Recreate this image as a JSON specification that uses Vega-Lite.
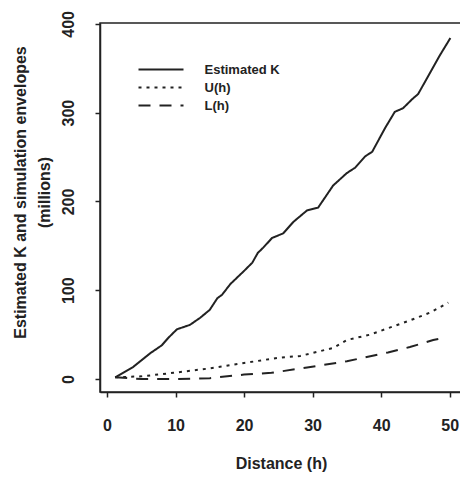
{
  "$schema": "https://vega.github.io/schema/vega-lite/v6.json",
  "width": 362,
  "height": 369,
  "autosize": "none",
  "padding": {"left": 100, "top": 23, "right": 0, "bottom": 96},
  "background": "white",
  "config": {
    "view": {"stroke": "#222", "strokeWidth": 1.5},
    "font": "Liberation Sans",
    "axis": {"grid": false, "domainColor": "#222", "domainWidth": 1.5, "tickColor": "#222", "tickWidth": 1.5, "tickSize": 5, "labelColor": "#222", "titleColor": "#222", "labelFontSize": 16, "labelFontWeight": "bold", "titleFontSize": 16, "titleFontWeight": "bold"}
  },
  "data": {"values": [
    {"h": 1.2, "v": 2, "s": "Estimated K"},
    {"h": 3.8, "v": 13.5, "s": "Estimated K"},
    {"h": 6.3, "v": 29, "s": "Estimated K"},
    {"h": 8.0, "v": 38, "s": "Estimated K"},
    {"h": 8.9, "v": 46, "s": "Estimated K"},
    {"h": 10.2, "v": 56, "s": "Estimated K"},
    {"h": 12.1, "v": 61, "s": "Estimated K"},
    {"h": 13.6, "v": 69, "s": "Estimated K"},
    {"h": 15.0, "v": 78, "s": "Estimated K"},
    {"h": 16.1, "v": 91, "s": "Estimated K"},
    {"h": 16.8, "v": 95, "s": "Estimated K"},
    {"h": 18.0, "v": 107, "s": "Estimated K"},
    {"h": 19.9, "v": 121, "s": "Estimated K"},
    {"h": 21.2, "v": 131, "s": "Estimated K"},
    {"h": 22.0, "v": 142, "s": "Estimated K"},
    {"h": 22.8, "v": 148, "s": "Estimated K"},
    {"h": 24.1, "v": 159, "s": "Estimated K"},
    {"h": 25.7, "v": 164, "s": "Estimated K"},
    {"h": 27.2, "v": 177, "s": "Estimated K"},
    {"h": 29.2, "v": 190, "s": "Estimated K"},
    {"h": 30.8, "v": 193, "s": "Estimated K"},
    {"h": 33.0, "v": 218, "s": "Estimated K"},
    {"h": 35.0, "v": 232, "s": "Estimated K"},
    {"h": 36.2, "v": 238, "s": "Estimated K"},
    {"h": 37.7, "v": 251, "s": "Estimated K"},
    {"h": 38.7, "v": 256, "s": "Estimated K"},
    {"h": 40.6, "v": 283, "s": "Estimated K"},
    {"h": 42.0, "v": 301, "s": "Estimated K"},
    {"h": 43.2, "v": 305, "s": "Estimated K"},
    {"h": 44.5, "v": 315, "s": "Estimated K"},
    {"h": 45.4, "v": 321, "s": "Estimated K"},
    {"h": 47.0, "v": 343, "s": "Estimated K"},
    {"h": 48.6, "v": 365, "s": "Estimated K"},
    {"h": 50.1, "v": 384, "s": "Estimated K"},
    {"h": 1.2, "v": 2, "s": "U(h)"},
    {"h": 5, "v": 3, "s": "U(h)"},
    {"h": 9.7, "v": 7, "s": "U(h)"},
    {"h": 15, "v": 12, "s": "U(h)"},
    {"h": 20, "v": 18, "s": "U(h)"},
    {"h": 25, "v": 24, "s": "U(h)"},
    {"h": 28.2, "v": 26, "s": "U(h)"},
    {"h": 33, "v": 35, "s": "U(h)"},
    {"h": 35, "v": 44, "s": "U(h)"},
    {"h": 38.4, "v": 50, "s": "U(h)"},
    {"h": 40.9, "v": 57, "s": "U(h)"},
    {"h": 44.2, "v": 66, "s": "U(h)"},
    {"h": 47.2, "v": 75, "s": "U(h)"},
    {"h": 49.8, "v": 86, "s": "U(h)"},
    {"h": 1.2, "v": 2, "s": "L(h)"},
    {"h": 5, "v": 0, "s": "L(h)"},
    {"h": 10, "v": 0, "s": "L(h)"},
    {"h": 15, "v": 1, "s": "L(h)"},
    {"h": 20, "v": 5, "s": "L(h)"},
    {"h": 24, "v": 7, "s": "L(h)"},
    {"h": 29.2, "v": 13, "s": "L(h)"},
    {"h": 35, "v": 20, "s": "L(h)"},
    {"h": 41, "v": 30, "s": "L(h)"},
    {"h": 44.2, "v": 36, "s": "L(h)"},
    {"h": 47.6, "v": 44, "s": "L(h)"},
    {"h": 49.6, "v": 47, "s": "L(h)"}
  ]},
  "mark": {"type": "line", "color": "#222", "strokeWidth": 2},
  "encoding": {
    "x": {"field": "h", "type": "quantitative", "scale": {"domain": [-1.02, 51.8], "nice": false, "zero": false},
      "axis": {"values": [0, 10, 20, 30, 40, 50], "title": "Distance (h)", "labelPadding": 20, "titlePadding": 22}},
    "y": {"field": "v", "type": "quantitative", "scale": {"domain": [-14.6, 401], "nice": false, "zero": false},
      "axis": {"values": [0, 100, 200, 300, 400], "labelAngle": 270, "labelAlign": "center", "labelBaseline": "bottom", "labelPadding": 19, "title": ["Estimated K and simulation envelopes", "(millions)"], "titlePadding": 8, "titleLineHeight": 24, "titleY": 169}},
    "strokeDash": {"field": "s", "type": "nominal",
      "scale": {"domain": ["Estimated K", "U(h)", "L(h)"], "range": [[1, 0], [3, 5], [12, 9]]},
      "legend": {"title": null, "orient": "none", "legendX": 54.5, "legendY": 40, "symbolType": "M-5,0H5", "symbolSize": 81, "symbolStrokeWidth": 2, "symbolStrokeColor": "#222", "labelFontSize": 13, "labelFontWeight": "bold", "labelColor": "#222", "labelOffset": 37, "rowPadding": 4}},
    "order": {"field": "h", "type": "quantitative"}
  }
}
